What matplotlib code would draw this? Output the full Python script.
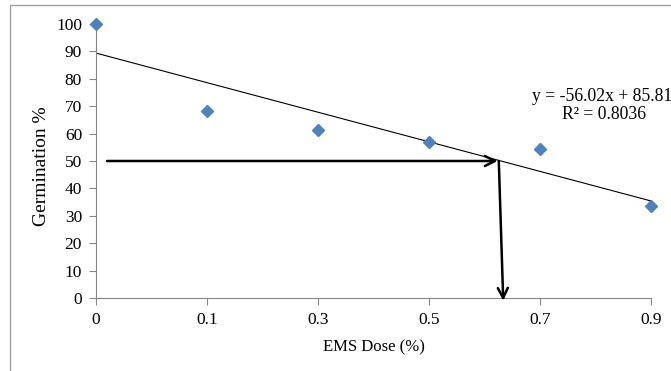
import numpy as np
import matplotlib.pyplot as plt
from matplotlib.patches import Rectangle

# данные с графика
doses = ['0', '0.1', '0.3', '0.5', '0.7', '0.9']
germination = [100, 68.2, 61.3, 56.9, 54.4, 33.6]
equation = 'y = -56.02x + 85.81'
r2_text = 'R² = 0.8036'
target = 50

plt.rcParams['font.family'] = ['Liberation Serif', 'DejaVu Serif']

fig = plt.figure(figsize=(6.71, 3.71), dpi=100)
ax = fig.add_axes([96 / 671, 1 - 298 / 371, (651 - 96) / 671, (298 - 24) / 371])

# внешняя рамка
fig.patches.append(Rectangle((10 / 671, -0.1), 1.2, 1 - 5 / 371 + 0.1,
                             transform=fig.transFigure, fill=False,
                             edgecolor='#a0a0a0', linewidth=1))

pos = np.arange(len(doses))
ax.plot(pos, germination, 'D', color='#4F81BD', markersize=6.5, clip_on=False, zorder=5)

# линия тренда
k, b = np.polyfit(pos, germination, 1)
ax.plot([pos[0], pos[-1]], [b, k * pos[-1] + b], color='black', linewidth=0.8)

x_hit = (target - b) / k
ax.annotate('', xy=(x_hit - 0.03, target), xytext=(0.1, target),
            arrowprops=dict(arrowstyle='->', color='black', lw=1.8,
                            mutation_scale=18, shrinkA=0, shrinkB=0))
ax.annotate('', xy=(x_hit + 0.02, -1), xytext=(x_hit - 0.02, target),
            arrowprops=dict(arrowstyle='->', color='black', lw=1.8,
                            mutation_scale=18, shrinkA=0, shrinkB=0),
            annotation_clip=False)

ax.text(3.93, 73.5, equation, fontsize=12.7, ha='left', va='center', clip_on=False)
ax.text(4.58, 67, r2_text, fontsize=12.7, ha='center', va='center')

ax.set_xlim(0, 5)
ax.set_ylim(0, 100)
ax.set_xticks(pos)
ax.set_xticklabels(doses)
ax.set_yticks(range(0, 101, 10))
ax.tick_params(labelsize=12.5, color='#868686', length=5, pad=5)

for side in ['top', 'right']:
    ax.spines[side].set_visible(False)
for side in ['left', 'bottom']:
    ax.spines[side].set_color('#868686')

ax.set_xlabel('EMS Dose (%)', fontsize=12, labelpad=8)
ax.set_ylabel('Germination %', fontsize=14)
ax.yaxis.set_label_coords(-0.082, 0.48)

fig.savefig('out.png', dpi=100)
